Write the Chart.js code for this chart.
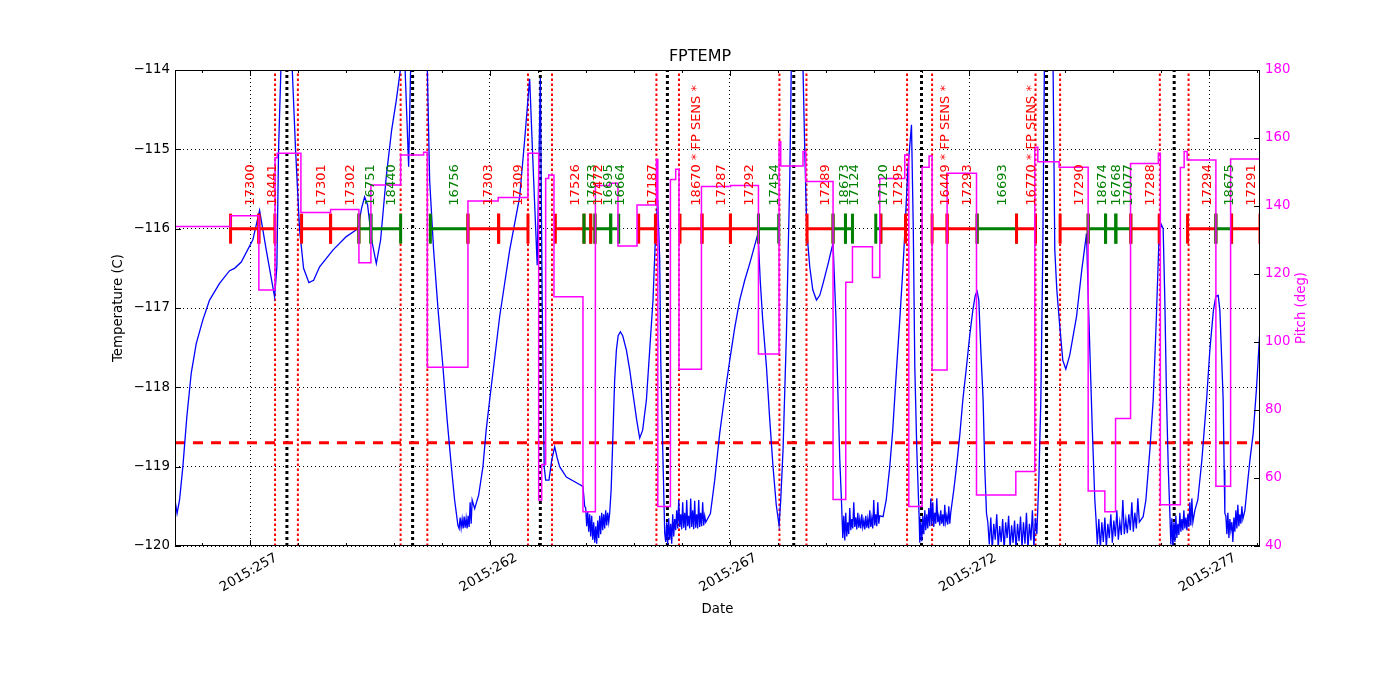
<!DOCTYPE html>
<html><head><meta charset="utf-8">
<script src="https://cdn.jsdelivr.net/npm/chart.js@4.4.0/dist/chart.umd.min.js"></script>
<style>html,body{margin:0;padding:0;background:#fff;}#wrap{width:1400px;height:700px;}</style>
</head><body><div id="wrap"><canvas id="c" width="1400" height="700"></canvas></div>
<script>
// ---------------- data ----------------
const xMin = 255.43, xMax = 278.06;
const xMajorDays = [257, 262, 267, 272, 277];
const xMinorDays = [256,257,258,259,260,261,262,263,264,265,266,267,268,269,270,271,272,273,274,275,276,277,278];
const tempTicks = [-120, -119, -118, -117, -116, -115, -114];
const pitchTicks = [40, 60, 80, 100, 120, 140, 160, 180];
const tempLimit = -118.7;
const barLevel = -116;
const obsLabelLevel = -115.71;

const redLineDays = [257.517, 257.993, 260.136, 260.693, 262.792, 263.293, 265.471, 265.942, 268.037, 268.600, 270.699, 271.221, 273.378, 273.891, 275.971, 276.570];
const blackLineDays = [257.764, 260.386, 263.050, 265.700, 268.335, 271.000, 273.608, 276.270];

const obsStarts = [256.589, 257.179, 258.070, 258.675, 259.266, 259.516, 260.756, 261.540, 262.180, 263.363, 263.960, 264.100, 264.190, 264.517, 265.101, 265.963, 266.422, 267.015, 267.599, 268.613, 269.155, 269.414, 270.046, 270.151, 271.221, 271.534, 272.160, 272.982, 273.891, 274.476, 274.839, 275.053, 275.366, 276.549, 277.140, 277.467];
const obsEnds = [257.179, 257.513, 258.675, 259.266, 259.516, 260.136, 261.540, 262.180, 262.792, 263.960, 264.100, 264.190, 264.517, 264.684, 265.450, 266.422, 267.015, 267.599, 268.022, 269.155, 269.414, 269.560, 270.151, 270.666, 271.534, 272.160, 272.982, 273.378, 274.476, 274.839, 275.053, 275.366, 275.957, 277.140, 277.467, 278.06];
const obsIds = ["17300","18441","17301","17302","16751","18440","16756","17303","17309","17526","17673","17472","16695","16664","17187","18670 * FP SENS *","17287","17292","17454","17289","18673","17124","17120","17295","16449 * FP SENS *","17293","16693","16770 * FP SENS *","17290","18674","16768","17077","17288","17294","18675","17291"];
const obsKinds = ["R","R","R","R","G","G","G","R","R","R","G","R","G","G","R","R","R","R","G","R","G","G","G","R","R","R","G","R","R","G","G","G","R","R","G","R"];

const pitchDays = [255.431, 256.589, 257.179, 257.517, 257.563, 258.056, 258.675, 259.266, 259.516, 260.136, 260.616, 260.693, 261.540, 262.170, 262.792, 263.015, 263.078, 263.161, 263.224, 263.334, 263.939, 264.198, 264.496, 264.669, 265.066, 265.471, 265.500, 265.763, 265.873, 265.942, 266.410, 267.015, 267.599, 268.029, 268.064, 268.529, 268.586, 269.155, 269.420, 269.560, 269.977, 270.130, 270.651, 270.735, 271.012, 271.158, 271.221, 271.534, 272.147, 272.967, 273.363, 273.426, 273.870, 274.476, 274.824, 275.047, 275.360, 275.940, 275.982, 276.399, 276.478, 276.541, 277.140, 277.447, 278.06];
const pitchValues = [134.0, 137.1, 115.3, 154.2, 155.5, 138.1, 139.0, 123.3, 146.2, 155.0, 155.8, 92.6, 141.5, 142.5, 155.5, 53.5, 64.0, 148.1, 149.1, 113.3, 50.1, 146.0, 146.7, 128.2, 140.3, 153.7, 51.6, 147.8, 150.8, 92.0, 145.7, 146.0, 96.5, 158.9, 151.8, 156.0, 147.2, 53.7, 117.6, 128.0, 119.0, 148.1, 155.0, 51.6, 151.4, 154.7, 91.8, 149.6, 55.0, 61.9, 157.3, 153.0, 151.4, 56.2, 50.1, 77.5, 152.5, 155.5, 52.1, 151.3, 156.0, 153.5, 57.6, 153.8, 153.8];

const fptemp = [
[255.431,-119.42],[255.473,-119.59],[255.525,-119.42],[255.594,-119.00],[255.677,-118.37],[255.769,-117.82],[255.873,-117.45],[256.011,-117.15],[256.151,-116.90],[256.359,-116.69],[256.568,-116.53],[256.672,-116.50],[256.812,-116.42],[257.054,-116.14],[257.194,-115.77],[257.334,-116.27],[257.507,-116.86],[257.555,-116.48],[257.590,-115.01],[257.638,-114.00],[257.674,-113.60],[257.768,-112.50],[257.862,-113.60],[257.876,-114.00],[257.945,-115.01],[258.029,-116.02],[258.112,-116.50],[258.223,-116.68],[258.321,-116.65],[258.446,-116.48],[258.723,-116.27],[259.003,-116.10],[259.245,-116.00],[259.322,-115.74],[259.385,-115.60],[259.447,-115.70],[259.531,-116.14],[259.629,-116.44],[259.719,-116.14],[259.837,-115.34],[259.948,-114.76],[260.046,-114.38],[260.130,-114.00],[260.178,-113.75],[260.230,-114.00],[260.303,-115.22],[260.344,-114.00],[260.386,-113.50],[260.511,-113.37],[260.637,-113.60],[260.693,-114.00],[260.741,-115.39],[260.824,-116.27],[260.918,-117.03],[261.018,-117.74],[261.106,-118.41],[261.194,-119.00],[261.262,-119.42],[261.331,-119.74],
[261.356,-119.78],[261.377,-119.64],[261.398,-119.77],[261.419,-119.66],[261.440,-119.78],[261.461,-119.63],[261.481,-119.77],[261.502,-119.65],[261.523,-119.78],[261.544,-119.62],[261.565,-119.76],[261.586,-119.45],[261.607,-119.72],[261.628,-119.42],
[261.680,-119.53],[261.763,-119.36],[261.853,-119.00],[261.920,-118.54],[261.993,-118.16],[262.201,-117.11],[262.410,-116.27],[262.619,-115.60],[262.723,-114.88],[262.827,-114.11],[262.911,-115.39],[262.984,-116.46],[263.050,-114.10],[263.088,-116.90],[263.130,-119.00],[263.161,-119.17],[263.230,-119.17],[263.286,-118.92],[263.349,-118.75],[263.401,-118.89],[263.453,-119.00],[263.593,-119.13],[263.766,-119.19],[263.939,-119.25],[263.975,-119.50],
[263.996,-119.52],[264.017,-119.75],[264.038,-119.56],[264.059,-119.82],[264.079,-119.60],[264.100,-119.88],[264.121,-119.62],[264.142,-119.92],[264.163,-119.70],[264.184,-119.96],[264.205,-119.75],[264.225,-119.97],[264.246,-119.68],[264.267,-119.90],[264.288,-119.62],[264.309,-119.85],[264.330,-119.58],[264.351,-119.80],[264.371,-119.60],[264.392,-119.78],[264.413,-119.55],[264.434,-119.74],[264.455,-119.58],[264.476,-119.70],
[264.496,-119.59],[264.527,-119.29],[264.565,-118.58],[264.600,-117.91],[264.636,-117.53],[264.673,-117.35],[264.720,-117.30],[264.768,-117.35],[264.845,-117.53],[264.914,-117.78],[264.982,-118.08],[265.059,-118.41],[265.122,-118.64],[265.184,-118.54],[265.262,-118.16],[265.331,-117.53],[265.400,-116.90],[265.456,-116.02],[265.498,-115.64],[265.540,-116.40],[265.561,-117.66],[265.603,-118.79],[265.644,-119.84],
[265.665,-119.95],[265.686,-119.70],[265.706,-119.98],[265.727,-119.65],[265.748,-119.92],[265.769,-119.72],[265.790,-119.97],[265.811,-119.60],[265.832,-119.88],[265.852,-119.66],[265.873,-119.80],[265.894,-119.55],[265.915,-119.78],[265.936,-119.42],[265.957,-119.76],[265.978,-119.60],[265.998,-119.79],[266.019,-119.45],[266.040,-119.77],[266.061,-119.58],[266.082,-119.80],[266.103,-119.42],[266.123,-119.75],[266.144,-119.62],[266.165,-119.78],[266.186,-119.40],[266.207,-119.76],[266.228,-119.55],[266.249,-119.79],[266.269,-119.43],[266.290,-119.77],[266.311,-119.60],[266.332,-119.78],[266.353,-119.42],[266.374,-119.76],[266.394,-119.58],[266.415,-119.75],[266.436,-119.45],[266.457,-119.74],[266.478,-119.62],[266.499,-119.70],
[266.597,-119.59],[266.687,-119.17],[266.791,-118.58],[266.896,-118.10],[267.000,-117.66],[267.104,-117.25],[267.208,-116.90],[267.313,-116.65],[267.417,-116.44],[267.521,-116.21],[267.590,-116.06],[267.636,-116.65],[267.688,-117.15],[267.766,-117.74],[267.835,-118.41],[267.903,-119.00],[267.970,-119.48],[268.029,-119.74],[268.064,-119.42],[268.112,-118.79],[268.183,-117.32],[268.220,-116.27],[268.252,-115.39],[268.283,-114.00],[268.314,-113.50],[268.398,-113.24],[268.492,-113.62],[268.529,-114.00],[268.565,-115.01],[268.607,-116.02],[268.669,-116.48],[268.732,-116.77],[268.809,-116.90],[268.878,-116.84],[268.947,-116.69],[269.045,-116.46],[269.155,-116.18],[269.217,-117.15],[269.260,-118.16],[269.296,-118.92],[269.330,-119.42],
[269.358,-119.90],[269.379,-119.62],[269.400,-119.93],[269.420,-119.58],[269.441,-119.88],[269.462,-119.70],[269.483,-119.85],[269.504,-119.52],[269.525,-119.80],[269.546,-119.66],[269.566,-119.78],[269.587,-119.45],[269.608,-119.76],[269.629,-119.64],[269.650,-119.79],[269.671,-119.58],[269.692,-119.77],[269.712,-119.66],[269.733,-119.78],[269.754,-119.60],[269.775,-119.76],[269.796,-119.68],[269.817,-119.79],[269.837,-119.62],[269.858,-119.77],[269.879,-119.66],[269.900,-119.78],[269.921,-119.55],[269.942,-119.76],[269.963,-119.65],[269.983,-119.78],[270.004,-119.42],[270.025,-119.74],[270.046,-119.60],[270.067,-119.75],[270.088,-119.45],[270.109,-119.72],[270.129,-119.62],
[270.198,-119.63],[270.264,-119.42],[270.338,-119.00],[270.400,-118.54],[270.478,-117.78],[270.547,-117.15],[270.610,-116.52],[270.651,-116.06],[270.714,-115.26],[270.791,-114.69],[270.829,-116.02],[270.860,-117.74],[270.902,-118.79],[270.950,-119.63],
[270.964,-119.96],[270.985,-119.70],[271.006,-119.94],[271.027,-119.62],[271.048,-119.85],[271.069,-119.55],[271.089,-119.80],[271.110,-119.60],[271.131,-119.78],[271.152,-119.52],[271.173,-119.75],[271.194,-119.40],[271.214,-119.74],[271.235,-119.45],[271.256,-119.76],[271.277,-119.58],[271.298,-119.72],[271.319,-119.40],[271.339,-119.70],[271.360,-119.62],[271.381,-119.74],[271.402,-119.55],[271.423,-119.72],[271.444,-119.60],[271.465,-119.75],[271.485,-119.48],[271.506,-119.70],[271.527,-119.62],[271.548,-119.73],[271.569,-119.50],[271.590,-119.72],[271.610,-119.58],
[271.674,-119.29],[271.730,-119.00],[271.799,-118.60],[271.862,-118.16],[271.938,-117.74],[272.007,-117.34],[272.070,-117.03],[272.122,-116.84],[272.160,-116.79],[272.195,-116.90],[272.237,-117.53],[272.285,-118.16],[272.321,-119.04],[272.356,-119.59],
[272.383,-119.70],[272.414,-119.98],[272.445,-119.64],[272.476,-120.05],[272.507,-119.72],[272.538,-119.92],[272.569,-119.60],[272.600,-120.02],[272.631,-119.75],[272.662,-119.95],[272.693,-119.66],[272.724,-120.05],[272.755,-119.70],[272.786,-119.90],[272.817,-119.62],[272.848,-120.03],[272.879,-119.74],[272.910,-119.96],[272.941,-119.68],[272.972,-120.04],[273.003,-119.72],[273.034,-119.94],[273.065,-119.63],[273.096,-120.02],[273.127,-119.70],[273.158,-119.97],[273.189,-119.58],[273.220,-120.04],[273.251,-119.72],[273.282,-119.93],[273.313,-119.55],[273.344,-120.02],[273.375,-119.65],[273.406,-119.85],
[273.447,-119.17],[273.489,-118.16],[273.530,-116.27],[273.562,-114.00],[273.593,-113.37],[273.677,-113.37],[273.718,-113.87],[273.745,-114.00],[273.780,-116.27],[273.822,-116.77],[273.885,-117.24],[273.947,-117.66],[274.010,-117.77],[274.093,-117.59],[274.233,-117.11],[274.343,-116.52],[274.442,-116.06],[274.479,-116.90],[274.511,-117.53],[274.563,-118.54],[274.615,-119.42],
[274.636,-119.62],[274.667,-119.98],[274.698,-119.66],[274.730,-120.03],[274.761,-119.70],[274.792,-119.95],[274.824,-119.64],[274.855,-120.02],[274.886,-119.72],[274.917,-119.90],[274.949,-119.60],[274.980,-119.96],[275.011,-119.68],[275.043,-119.88],[275.074,-119.55],[275.105,-119.92],[275.136,-119.70],[275.168,-119.86],[275.199,-119.42],[275.230,-119.85],[275.262,-119.66],[275.293,-119.84],[275.324,-119.60],[275.355,-119.80],[275.387,-119.45],[275.418,-119.82],[275.449,-119.58],[275.481,-119.78],[275.512,-119.40],[275.543,-119.70],
[275.623,-119.63],[275.680,-119.42],[275.763,-118.79],[275.832,-118.16],[275.889,-117.28],[275.957,-116.06],[276.003,-115.95],[276.040,-116.00],[276.075,-116.90],[276.111,-118.16],[276.148,-119.04],[276.180,-119.59],
[276.201,-119.98],[276.222,-119.65],[276.243,-120.03],[276.264,-119.70],[276.285,-119.95],[276.305,-119.62],[276.326,-119.90],[276.347,-119.72],[276.368,-119.86],[276.389,-119.58],[276.410,-119.82],[276.430,-119.66],[276.451,-119.80],[276.472,-119.55],[276.493,-119.78],[276.514,-119.64],[276.535,-119.80],[276.555,-119.60],[276.576,-119.76],[276.597,-119.45],[276.618,-119.74],[276.639,-119.40],[276.660,-119.70],
[276.701,-119.55],[276.763,-119.42],[276.847,-118.92],[276.946,-118.16],[277.014,-117.53],[277.088,-117.03],[277.140,-116.85],[277.188,-116.84],[277.223,-117.03],[277.254,-117.53],[277.292,-118.16],[277.313,-119.04],[277.327,-119.59],
[277.348,-119.62],[277.369,-119.85],[277.390,-119.58],[277.411,-119.90],[277.432,-119.66],[277.452,-119.80],[277.473,-119.70],[277.494,-119.95],[277.515,-119.64],[277.536,-119.82],[277.557,-119.55],[277.578,-119.78],[277.598,-119.48],[277.619,-119.75],[277.640,-119.60],[277.661,-119.72],[277.682,-119.50],[277.703,-119.66],
[277.745,-119.55],[277.807,-119.17],[277.849,-118.92],[277.918,-118.58],[277.985,-118.03],[278.058,-117.28]
];

// ---------------- build ----------------
const RED = '#ff0000', GREEN = '#008000', BLUE = '#0000ff', MAGENTA = '#ff00ff';
const kindColor = {R: RED, G: GREEN};
const tempMin = tempTicks[0], tempMax = tempTicks[tempTicks.length - 1];

function vlines(days) {
  const out = [];
  days.forEach(d => out.push({x: d, y: tempMin}, {x: d, y: tempMax}, {x: d, y: null}));
  return out;
}
function barData(kind) {
  const out = [];
  obsIds.forEach((id, i) => {
    if (obsKinds[i] !== kind) return;
    out.push({x: obsStarts[i], y: barLevel}, {x: obsEnds[i], y: barLevel}, {x: obsEnds[i], y: null});
  });
  return out;
}
const tickPts = [], tickCols = [];
obsIds.forEach((id, i) => {
  tickPts.push({x: obsStarts[i], y: barLevel}, {x: obsEnds[i], y: barLevel});
  tickCols.push(kindColor[obsKinds[i]], kindColor[obsKinds[i]]);
});

Chart.defaults.font.family = "'DejaVu Sans', sans-serif";
Chart.defaults.font.size = 13.3;
Chart.defaults.color = '#000';

const decor = {
  id: 'decor',
  afterDatasetsDraw(chart) {
    const {ctx, chartArea: a, scales} = chart;
    const xs = scales.x, ys = scales.y, yp = scales.yP;
    ctx.save();
    // observation labels
    ctx.font = "13px 'DejaVu Sans', sans-serif";
    ctx.textAlign = 'left';
    ctx.textBaseline = 'alphabetic';
    obsIds.forEach((id, i) => {
      const mid = (obsStarts[i] + obsEnds[i]) / 2;
      const px = xs.getPixelForValue(mid) + 9;
      const py = ys.getPixelForValue(obsLabelLevel);
      ctx.save();
      ctx.translate(px, py);
      ctx.rotate(-Math.PI / 2);
      ctx.fillStyle = kindColor[obsKinds[i]];
      ctx.fillText(id, 0, 0);
      ctx.restore();
    });
    // frame
    ctx.strokeStyle = '#000';
    ctx.lineWidth = 1;
    ctx.strokeRect(Math.round(a.left) + 0.5, Math.round(a.top) + 0.5, Math.round(a.right - a.left) - 1, Math.round(a.bottom - a.top) - 1);
    // inward ticks
    ctx.beginPath();
    xMinorDays.forEach(d => {
      if (d < xMin || d > xMax) return;
      const px = Math.round(xs.getPixelForValue(d)) + 0.5;
      const len = xMajorDays.includes(d) ? 6 : 3;
      ctx.moveTo(px, a.bottom); ctx.lineTo(px, a.bottom - len);
      ctx.moveTo(px, a.top); ctx.lineTo(px, a.top + len);
    });
    tempTicks.forEach(v => {
      const py = Math.round(ys.getPixelForValue(v)) + 0.5;
      ctx.moveTo(a.left, py); ctx.lineTo(a.left + 6, py);
    });
    pitchTicks.forEach(v => {
      const py = Math.round(yp.getPixelForValue(v)) + 0.5;
      ctx.moveTo(a.right, py); ctx.lineTo(a.right - 6, py);
    });
    ctx.stroke();
    // right axis title
    ctx.font = "13.3px 'DejaVu Sans', sans-serif";
    ctx.fillStyle = MAGENTA;
    ctx.textAlign = 'center';
    ctx.textBaseline = 'middle';
    ctx.translate(a.right + 42, (a.top + a.bottom) / 2);
    ctx.rotate(-Math.PI / 2);
    ctx.fillText('Pitch (deg)', 0, 0);
    ctx.restore();
  }
};

const common = {pointRadius: 0, spanGaps: false, fill: false, tension: 0};

new Chart(document.getElementById('c'), {
  type: 'line',
  data: {
    datasets: [
      Object.assign({label: 'pitch', data: pitchDays.map((d, i) => ({x: d, y: pitchValues[i]})), yAxisID: 'yP', borderColor: MAGENTA, borderWidth: 1.5, stepped: 'before', order: 1, clip: 0}, common),
      {label: 'ticks', data: tickPts, yAxisID: 'y', showLine: false, pointStyle: 'line', pointRotation: 90, pointRadius: 15, pointBorderWidth: 3, pointBorderColor: tickCols, pointBackgroundColor: tickCols, order: 2},
      Object.assign({label: 'barR', data: barData('R'), yAxisID: 'y', borderColor: RED, borderWidth: 3, order: 3}, common),
      Object.assign({label: 'barG', data: barData('G'), yAxisID: 'y', borderColor: GREEN, borderWidth: 3, order: 3}, common),
      Object.assign({label: 'FPTEMP', data: fptemp.map(p => ({x: p[0], y: p[1]})), yAxisID: 'y', borderColor: BLUE, borderWidth: 1.3, order: 4, clip: 0}, common),
      Object.assign({label: 'limit', data: [{x: xMin, y: tempLimit}, {x: xMax, y: tempLimit}], yAxisID: 'y', borderColor: RED, borderWidth: 3, borderDash: [10, 8], order: 5}, common),
      Object.assign({label: 'black', data: vlines(blackLineDays), yAxisID: 'y', borderColor: '#000', borderWidth: 3, borderDash: [3, 3], order: 6}, common),
      Object.assign({label: 'red', data: vlines(redLineDays), yAxisID: 'y', borderColor: RED, borderWidth: 2, borderDash: [2.5, 2.5], order: 6}, common)
    ]
  },
  options: {
    responsive: false,
    devicePixelRatio: 1,
    animation: false,
    events: [],
    layout: {padding: 0},
    plugins: {
      legend: {display: false},
      tooltip: {enabled: false},
      title: {display: true, text: 'FPTEMP', color: '#000', font: {size: 16, weight: 'normal'}, padding: {top: 47.4, bottom: 3.4}}
    },
    scales: {
      x: {
        type: 'linear', position: 'bottom', min: xMin, max: xMax,
        afterBuildTicks: s => { s.ticks = xMajorDays.map(v => ({value: v})); },
        ticks: {callback: v => '2015:' + v, minRotation: 30, maxRotation: 30, autoSkip: false, padding: 4, labelOffset: 26, color: '#000'},
        grid: {drawTicks: false, color: '#000', lineWidth: 1, borderDash: [1, 3]},
        border: {display: false, dash: [1, 3]},
        title: {display: true, text: 'Date', color: '#000', padding: {top: 0, bottom: 82}},
        afterFit: s => { s.height = 154; }
      },
      y: {
        type: 'linear', position: 'left', min: tempMin, max: tempMax,
        afterBuildTicks: s => { s.ticks = tempTicks.map(v => ({value: v})); },
        ticks: {callback: v => String(v).replace('-', '\u2212'), padding: 5, color: '#000'},
        grid: {drawTicks: false, color: '#000', lineWidth: 1, borderDash: [1, 3]},
        border: {display: false, dash: [1, 3]},
        title: {display: true, text: 'Temperature (C)', color: '#000', padding: {top: 111, bottom: 0}},
        afterFit: s => { s.width = 175; }
      },
      yP: {
        type: 'linear', position: 'right', min: pitchTicks[0], max: pitchTicks[pitchTicks.length - 1],
        afterBuildTicks: s => { s.ticks = pitchTicks.map(v => ({value: v})); },
        ticks: {callback: v => String(v), padding: 5, color: MAGENTA},
        grid: {display: false, drawTicks: false},
        border: {display: false},
        afterFit: s => { s.width = 140; }
      }
    }
  },
  plugins: [decor]
});
</script></body></html>
